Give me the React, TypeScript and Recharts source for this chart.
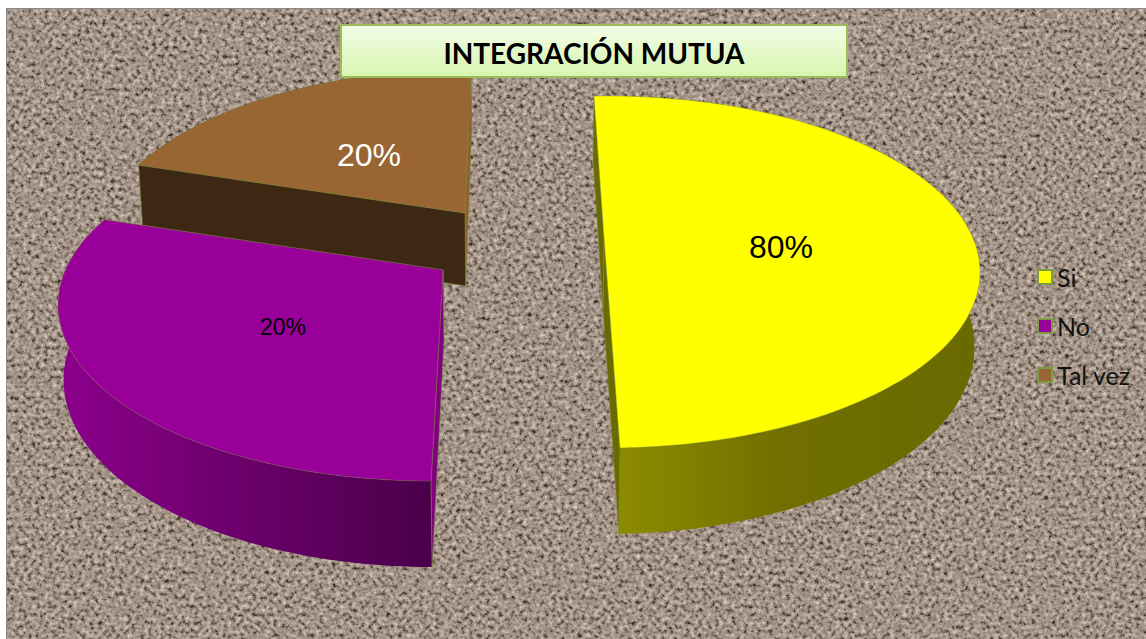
import React from 'react';
import { PieChart, Pie, Legend } from 'recharts';

const categories = ['Si', 'No', 'Tal vez'];
// share of the circle each slice takes in the picture
const shares = [50, 33.33, 16.67];
// printed labels, they do not match the slice sizes in the original
const percentLabels = ['80%', '20%', '20%'];

const WIDTH = 1146;
const HEIGHT = 639;
const RX = 373;
const RY = 176;

const colors: Record<string, any> = {
  Si: { top: '#ffff00', wallFrom: '#918f00', wallMid: '#706f00', wallTo: '#6a6900', side: '#6b6a00' },
  No: { top: '#990099', wallFrom: '#8c008c', wallMid: '#6a006a', wallTo: '#4a004a', side: '#800080' },
  'Tal vez': { top: '#996633', wallFrom: '#3e2713', wallMid: '#3e2713', wallTo: '#3e2713', side: '#8f5f30' },
};

// exploded slices: ellipse centre shift from the pie centre, and where the tip sits relative to that
const explode: Record<string, any> = {
  Si: { dx: 87, dy: -3, tipX: -3, tipY: -35, nudgeStart: 0, nudgeEnd: 0 },
  No: { dx: -89, dy: 30, tipX: 12, tipY: -35, nudgeStart: -1, nudgeEnd: -2 },
  'Tal vez': { dx: -49, dy: -30, tipX: -6, tipY: -32, nudgeStart: -2, nudgeEnd: 1 },
};

const labelStyle: Record<string, any> = {
  Si: { x: 261, y: -28, size: 32, color: '#000' },
  No: { x: -237, y: 52, size: 23, color: '#000' },
  'Tal vez': { x: -151, y: -120, size: 32, color: '#fff' },
};

// the lower ring closes in slightly and is thicker at the front
const lower = (x: number, y: number, cyE: number) => {
  const t = (y - cyE) / RY;
  return [x - (x - 520) * 0.012, y + 75 + 11 * t];
};

const poly = (pts: number[][]) =>
  pts.map((p, i) => `${i ? 'L' : 'M'}${p[0].toFixed(1)},${p[1].toFixed(1)}`).join(' ') + ' Z';

function Slice3D(props: any) {
  const { cx, cy, startAngle, endAngle, name } = props;
  const c = colors[name];
  const e = explode[name];
  const ex = cx + e.dx;
  const ey = cy + e.dy;
  const tip = [ex + e.tipX, ey + e.tipY];
  const a0 = startAngle + e.nudgeStart;
  const a1 = endAngle + e.nudgeEnd;
  const rim: number[][] = [];
  const steps = Math.ceil(Math.abs(a1 - a0) / 2);
  for (let i = 0; i <= steps; i++) {
    const a = ((a0 + ((a1 - a0) * i) / steps) * Math.PI) / 180;
    rim.push([ex + RX * Math.cos(a), ey - RY * Math.sin(a)]);
  }
  const low = rim.map((p) => lower(p[0], p[1], ey));
  const tipLow = lower(tip[0], tip[1], ey);
  const first = rim[0];
  const last = rim[rim.length - 1];
  const gradId = `wall-${categories.indexOf(name)}`;
  const edge = '#7d8f3c';
  return (
    <g>
      <defs>
        <linearGradient id={gradId} x1="0" y1="0" x2="1" y2="0">
          <stop offset="0%" stopColor={c.wallFrom} />
          <stop offset="50%" stopColor={c.wallMid} />
          <stop offset="100%" stopColor={c.wallTo} />
        </linearGradient>
      </defs>
      <path d={poly([...rim, ...low.slice().reverse()])} fill={`url(#${gradId})`} />
      <path d={poly([tip, first, low[0], tipLow])} fill={c.side} stroke={edge} strokeWidth={0.6} />
      <path
        d={poly([tip, last, low[low.length - 1], tipLow])}
        fill={name === 'Tal vez' ? c.wallFrom : c.side}
        stroke={edge}
        strokeWidth={0.6}
      />
      <path d={poly([tip, ...rim])} fill={c.top} stroke={edge} strokeWidth={0.5} strokeOpacity={0.7} />
    </g>
  );
}

function SliceLabel(props: any) {
  const { cx, cy, name } = props;
  const s = labelStyle[name];
  const row = categories.indexOf(name);
  return (
    <text
      x={cx + s.x}
      y={cy + s.y}
      fill={s.color}
      textAnchor="middle"
      dominantBaseline="central"
      style={{ fontFamily: 'Liberation Sans', fontSize: s.size }}
    >
      {percentLabels[row]}
    </text>
  );
}

function LegendList() {
  return (
    <div>
      {categories.map((name) => (
        <div key={name} style={{ display: 'flex', alignItems: 'center', height: 49 }}>
          <span
            style={{
              display: 'inline-block',
              width: 12,
              height: 12,
              marginRight: 4,
              background: colors[name].top,
              border: '2px solid #7d9a45',
            }}
          />
          <span style={{ fontFamily: 'Lato', fontSize: 25, color: '#111', whiteSpace: 'nowrap' }}>{name}</span>
        </div>
      ))}
    </div>
  );
}

function Texture() {
  return (
    <svg width={WIDTH - 7} height={HEIGHT - 9} style={{ position: 'absolute', left: 7, top: 9 }}>
      <filter id="grain" x="0" y="0" width="100%" height="100%" colorInterpolationFilters="sRGB">
        <feTurbulence type="fractalNoise" baseFrequency="0.24" numOctaves={3} seed={7} />
        <feColorMatrix type="matrix" values="1.5 0 0 0 -0.25  1.5 0 0 0 -0.25  1.5 0 0 0 -0.25  0 0 0 0 1" />
        <feComponentTransfer>
          <feFuncR type="table" tableValues="0.2 0.38 0.55 0.64 0.7 0.78 0.86" />
          <feFuncG type="table" tableValues="0.16 0.33 0.49 0.58 0.64 0.72 0.8" />
          <feFuncB type="table" tableValues="0.13 0.29 0.44 0.53 0.59 0.67 0.75" />
        </feComponentTransfer>
      </filter>
      <rect width="100%" height="100%" filter="url(#grain)" />
    </svg>
  );
}

export default function App() {
  // reversed so the far slice is painted first and the near ones land on top of it
  const table = categories.map((name, i) => ({ name, value: shares[i] })).reverse();
  return (
    <div style={{ position: 'absolute', left: 0, top: 0, width: WIDTH, height: HEIGHT, overflow: 'hidden', background: '#fff' }}>
      <div style={{ position: 'absolute', left: 6, top: 8, width: WIDTH - 6, height: HEIGHT - 8, borderLeft: '1px solid #8a8a8a', borderTop: '1px solid #8a8a8a', boxSizing: 'border-box' }} />
      <Texture />
      <div style={{ position: 'absolute', left: 0, top: 0 }}>
        <PieChart width={WIDTH} height={HEIGHT} margin={{ top: 0, right: 0, bottom: 0, left: 0 }}>
          <Pie
            data={table}
            dataKey="value"
            nameKey="name"
            cx={520}
            cy={275}
            outerRadius={RX}
            startAngle={92}
            endAngle={452}
            stroke="none"
            shape={Slice3D}
            label={SliceLabel}
            labelLine={false}
            isAnimationActive={false}
          />
          <Legend
            layout="vertical"
            content={LegendList}
            wrapperStyle={{ position: 'absolute', left: 1037, top: 252, width: 109, bottom: 'auto' }}
          />
        </PieChart>
      </div>
      <div
        style={{
          position: 'absolute',
          left: 340,
          top: 24,
          width: 508,
          height: 54,
          boxSizing: 'border-box',
          border: '2px solid #9bbb59',
          background: 'linear-gradient(#f3fde6, #d7f5b0)',
          display: 'flex',
          alignItems: 'center',
          justifyContent: 'center',
          paddingTop: 3,
          fontFamily: 'Lato',
          fontWeight: 700,
          fontSize: 28,
          color: '#000',
        }}
      >
        INTEGRACIÓN MUTUA
      </div>
    </div>
  );
}
